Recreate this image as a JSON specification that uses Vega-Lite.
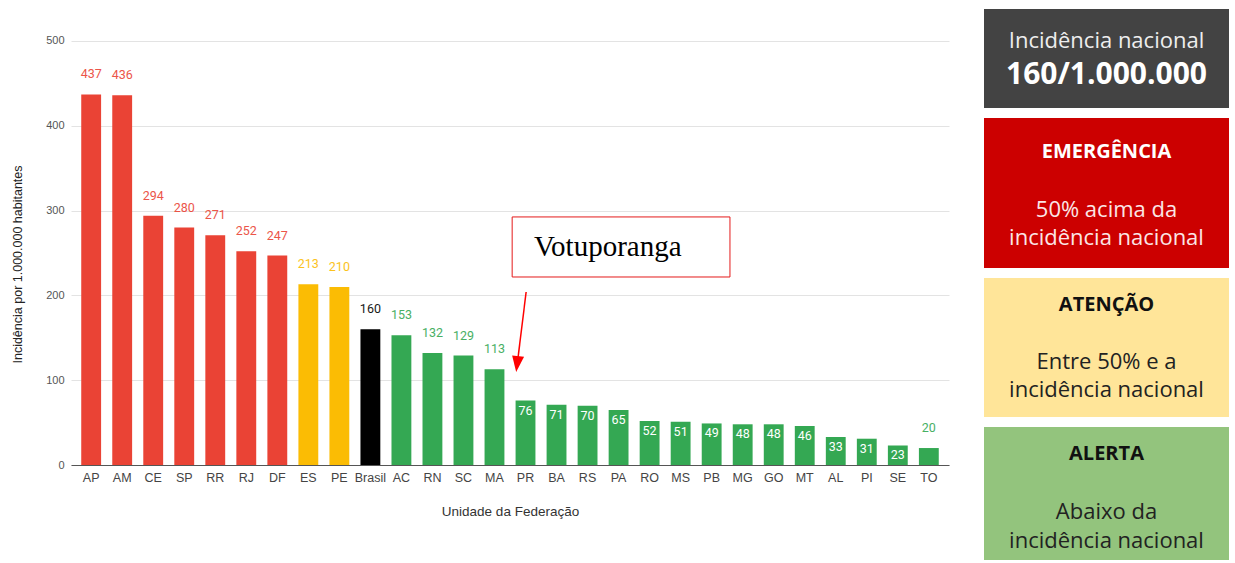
{
  "$schema": "https://vega.github.io/schema/vega-lite/v6.json",
  "padding": {"left": 11, "top": 9, "right": 5, "bottom": 0},
  "background": "white",
  "config": {"view": {"stroke": null}, "font": "Roboto"},
  "spacing": 35,
  "hconcat": [
    {
      "width": 878,
      "height": 456,
      "resolve": {"scale": {"x": "independent"}},
      "layer": [
        {
          "data": {"values": [
            {"uf": "AP", "value": 437, "level": "emergencia"},
            {"uf": "AM", "value": 436, "level": "emergencia"},
            {"uf": "CE", "value": 294, "level": "emergencia"},
            {"uf": "SP", "value": 280, "level": "emergencia"},
            {"uf": "RR", "value": 271, "level": "emergencia"},
            {"uf": "RJ", "value": 252, "level": "emergencia"},
            {"uf": "DF", "value": 247, "level": "emergencia"},
            {"uf": "ES", "value": 213, "level": "atencao"},
            {"uf": "PE", "value": 210, "level": "atencao"},
            {"uf": "Brasil", "value": 160, "level": "brasil"},
            {"uf": "AC", "value": 153, "level": "alerta"},
            {"uf": "RN", "value": 132, "level": "alerta"},
            {"uf": "SC", "value": 129, "level": "alerta"},
            {"uf": "MA", "value": 113, "level": "alerta"},
            {"uf": "PR", "value": 76, "level": "alerta"},
            {"uf": "BA", "value": 71, "level": "alerta"},
            {"uf": "RS", "value": 70, "level": "alerta"},
            {"uf": "PA", "value": 65, "level": "alerta"},
            {"uf": "RO", "value": 52, "level": "alerta"},
            {"uf": "MS", "value": 51, "level": "alerta"},
            {"uf": "PB", "value": 49, "level": "alerta"},
            {"uf": "MG", "value": 48, "level": "alerta"},
            {"uf": "GO", "value": 48, "level": "alerta"},
            {"uf": "MT", "value": 46, "level": "alerta"},
            {"uf": "AL", "value": 33, "level": "alerta"},
            {"uf": "PI", "value": 31, "level": "alerta"},
            {"uf": "SE", "value": 23, "level": "alerta"},
            {"uf": "TO", "value": 20, "level": "alerta"}
          ]},
          "encoding": {
            "x": {
              "field": "uf", "type": "nominal", "sort": null,
              "scale": {"paddingInner": 0.36, "paddingOuter": 0.33},
              "axis": {
                "title": "Unidade da Federação", "labelAngle": 0, "ticks": false,
                "domainColor": "#555555", "labelColor": "#444444", "labelFontSize": 12.5,
                "labelPadding": 6, "titleFontSize": 13.5, "titleFontWeight": "normal",
                "titleColor": "#333333", "titlePadding": 21, "labelFont": "Liberation Sans", "titleFont": "Liberation Sans"
              }
            },
            "y": {
              "field": "value", "type": "quantitative",
              "title": "Incidência por 1.000.000 habitantes",
              "scale": {"domain": [0, 537.7], "nice": false},
              "axis": {
                "values": [0, 100, 200, 300, 400, 500], "domain": false, "ticks": false,
                "gridColor": "#e3e3e3", "labelColor": "#555555", "labelFontSize": 11,
                "labelPadding": 7, "titleFontSize": 12.5, "titleFontWeight": "normal",
                "titleColor": "#222222", "titlePadding": 21, "titleY": 255,
                "labelFont": "Liberation Sans", "titleFont": "Liberation Sans"
              }
            }
          },
          "layer": [
            {
              "mark": {"type": "bar"},
              "encoding": {
                "color": {"field": "level", "type": "nominal", "legend": null,
                  "scale": {"domain": ["emergencia", "atencao", "brasil", "alerta"],
                            "range": ["#ea4335", "#fbbc04", "#000000", "#34a853"]}}
              }
            },
            {
              "transform": [{"filter": "datum.value >= 100 || datum.uf == 'TO'"}],
              "mark": {"type": "text", "baseline": "alphabetic", "dy": -16, "fontSize": 12.5, "font": "Roboto", "opacity": 0.9},
              "encoding": {
                "text": {"field": "value", "type": "quantitative"},
                "color": {"field": "level", "type": "nominal", "legend": null,
                  "scale": {"domain": ["emergencia", "atencao", "brasil", "alerta"],
                            "range": ["#ea4335", "#fbbc04", "#000000", "#34a853"]}}
              }
            },
            {
              "transform": [{"filter": "datum.value < 100 && datum.uf != 'TO'"}],
              "mark": {"type": "text", "baseline": "top", "dy": 4, "fontSize": 12.5, "font": "Roboto", "color": "#ffffff"},
              "encoding": {
                "text": {"field": "value", "type": "quantitative"}
              }
            }
          ]
        },
        {
          "layer": [
            {
              "data": {"values": [{"x": 13.57, "x2": 20.59, "value": 221.7, "value2": 292.5}]},
              "mark": {"type": "rect", "fill": "#ffffff", "stroke": "#e41a1a", "strokeWidth": 1},
              "encoding": {
                "x": {"field": "x", "type": "quantitative", "scale": {"domain": [-0.65, 27.65], "nice": false, "zero": false}, "axis": null},
                "x2": {"field": "x2"},
                "y": {"field": "value", "type": "quantitative", "title": "Incidência por 1.000.000 habitantes"},
                "y2": {"field": "value2"}
              }
            },
            {
              "data": {"values": [{"x": 14.27, "value": 257, "text": "Votuporanga"}]},
              "mark": {"type": "text", "align": "left", "baseline": "middle", "font": "Liberation Serif", "fontSize": 29, "color": "#000000"},
              "encoding": {
                "x": {"field": "x", "type": "quantitative", "scale": {"domain": [-0.65, 27.65], "nice": false, "zero": false}, "axis": null},
                "y": {"field": "value", "type": "quantitative", "title": "Incidência por 1.000.000 habitantes"},
                "text": {"field": "text"}
              }
            },
            {
              "data": {"values": [{"x": 14.02, "value": 204, "x2": 13.74, "value2": 121}]},
              "mark": {"type": "rule", "color": "#ff0000", "strokeWidth": 1.5},
              "encoding": {
                "x": {"field": "x", "type": "quantitative", "scale": {"domain": [-0.65, 27.65], "nice": false, "zero": false}, "axis": null},
                "x2": {"field": "x2"},
                "y": {"field": "value", "type": "quantitative", "title": "Incidência por 1.000.000 habitantes"},
                "y2": {"field": "value2"}
              }
            },
            {
              "data": {"values": [{"x": 13.73, "value": 119}]},
              "mark": {"type": "point", "shape": "M-0.75,-1L0.75,-1L0,1Z", "filled": true, "color": "#ff0000", "opacity": 1, "size": 256, "angle": 7},
              "encoding": {
                "x": {"field": "x", "type": "quantitative", "scale": {"domain": [-0.65, 27.65], "nice": false, "zero": false}, "axis": null},
                "y": {"field": "value", "type": "quantitative", "title": "Incidência por 1.000.000 habitantes"}
              }
            }
          ]
        }
      ]
    },
    {
      "spacing": 10,
      "vconcat": [
        {
          "width": 245, "height": 99,
          "view": {"fill": "#434343", "stroke": null},
          "data": {"values": [{"title": "Incidência nacional", "body": "160/1.000.000"}]},
          "layer": [
            {"mark": {"type": "text", "font": "Open Sans", "fontSize": 22, "color": "#eeeeee", "baseline": "middle", "dy": -17.5},
             "encoding": {"text": {"field": "title"}}},
            {"mark": {"type": "text", "font": "Open Sans", "fontSize": 30, "fontWeight": "bold", "color": "#ffffff", "baseline": "middle", "dy": 16.5},
             "encoding": {"text": {"field": "body"}}}
          ]
        },
        {
          "width": 245, "height": 150,
          "view": {"fill": "#cc0000", "stroke": null},
          "data": {"values": [{"title": "EMERGÊNCIA", "body": "50% acima da\nincidência nacional"}]},
          "layer": [
            {"mark": {"type": "text", "font": "Open Sans", "fontSize": 20, "fontWeight": "bold", "color": "#ffffff", "baseline": "middle", "dy": -41},
             "encoding": {"text": {"field": "title"}}},
            {"mark": {"type": "text", "font": "Open Sans", "fontSize": 22, "color": "#fbe6e6", "baseline": "middle", "dy": 17, "lineBreak": "\n", "lineHeight": 28},
             "encoding": {"text": {"field": "body"}}}
          ]
        },
        {
          "width": 245, "height": 139,
          "view": {"fill": "#ffe599", "stroke": null},
          "data": {"values": [{"title": "ATENÇÃO", "body": "Entre 50% e a\nincidência nacional"}]},
          "layer": [
            {"mark": {"type": "text", "font": "Open Sans", "fontSize": 20, "fontWeight": "bold", "color": "#111111", "baseline": "middle", "dy": -42.5},
             "encoding": {"text": {"field": "title"}}},
            {"mark": {"type": "text", "font": "Open Sans", "fontSize": 22, "color": "#222222", "baseline": "middle", "dy": 14.5, "lineBreak": "\n", "lineHeight": 28},
             "encoding": {"text": {"field": "body"}}}
          ]
        },
        {
          "width": 245, "height": 133,
          "view": {"fill": "#93c47d", "stroke": null},
          "data": {"values": [{"title": "ALERTA", "body": "Abaixo da\nincidência nacional"}]},
          "layer": [
            {"mark": {"type": "text", "font": "Open Sans", "fontSize": 20, "fontWeight": "bold", "color": "#111111", "baseline": "middle", "dy": -39.5},
             "encoding": {"text": {"field": "title"}}},
            {"mark": {"type": "text", "font": "Open Sans", "fontSize": 22, "color": "#222222", "baseline": "middle", "dy": 18.5, "lineBreak": "\n", "lineHeight": 29},
             "encoding": {"text": {"field": "body"}}}
          ]
        }
      ]
    }
  ]
}
